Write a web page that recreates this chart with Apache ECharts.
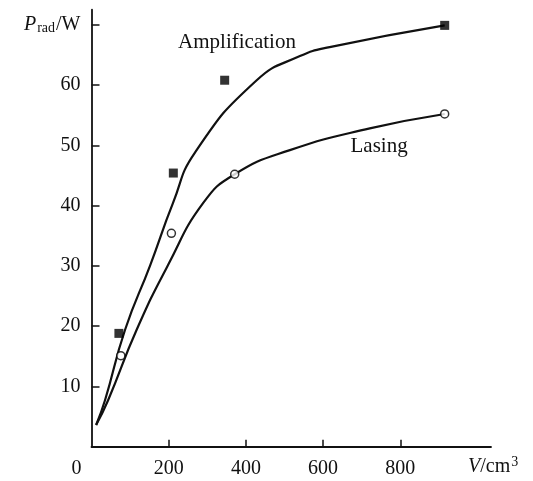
<!DOCTYPE html>
<html>
  <head>
    <meta charset="utf-8" />
    <title>P_rad vs V</title>
    <script src="https://cdn.jsdelivr.net/npm/echarts@6/dist/echarts.min.js"></script>
    <style>
      body {
        margin: 0;
        padding: 0;
        background: #fff;
      }
      #main {
        width: 533px;
        height: 481px;
      }
    </style>
  </head>
  <body>
    <div id="main"></div>
    <script type="text/javascript">
      // measured points (V in cm^3, P in W)
      var ampPoints = [[71, 18.8], [212, 45.4], [345, 60.8], [915, 69.9]];
      var lasePoints = [[76, 15.1], [207, 35.4], [371, 45.2], [915, 55.2]];

      // fitted curves
      var ampCurve = [[12, 3.6], [35, 7.7], [87, 19.4], [152, 30.1], [211, 40.4], [268, 48.8], [428, 60.8], [540, 64.8], [617, 66.3], [915, 69.9]];
      var laseCurve = [[12, 3.6], [43, 7.7], [117, 19.4], [198, 30.1], [289, 40.4], [371, 45.2], [514, 49.2], [721, 52.8], [915, 55.2]];

      var xTicks = [200, 400, 600, 800];
      var xLabels = [0, 200, 400, 600, 800];
      var yTicks = [10, 20, 30, 40, 50, 60, 70];

      var curveNames = ["Amplification", "Lasing"];
      var curveNamePos = [[377, 67.1], [745, 49.8]];

      var font = "Liberation Serif";
      var ink = "#111";

      var myChart = echarts.init(document.getElementById("main"));

      var option = {
        animation: false,
        grid: { left: 91.5, right: 42, top: 9.7, bottom: 34.3 },
        xAxis: {
          type: "value",
          min: 0,
          max: 1035,
          interval: 200,
          splitLine: { show: false },
          axisLine: { lineStyle: { color: ink, width: 1.8 } },
          axisTick: { inside: true, length: 7, customValues: xTicks, lineStyle: { color: ink, width: 1.5 } },
          axisLabel: {
            customValues: xLabels,
            margin: 12,
            color: ink,
            fontFamily: font,
            fontSize: 20,
            formatter: function (v) {
              if (v === 0) return "{z|0}";
              return String(v);
            },
            rich: {
              z: { fontFamily: font, fontSize: 20, color: ink, padding: [0, 30, 0, 0] }
            }
          },
          name: "{v|V}{t|/cm}{sup|3}",
          nameLocation: "end",
          nameGap: -23,
          nameTextStyle: {
            padding: [40, 0, 0, 0],
            rich: {
              v: { fontFamily: font, fontSize: 20, fontStyle: "italic", color: ink },
              t: { fontFamily: font, fontSize: 20, color: ink },
              sup: { fontFamily: font, fontSize: 14, color: ink, padding: [0, 0, 8, 1] }
            }
          }
        },
        yAxis: {
          type: "value",
          min: 0,
          max: 72.5,
          interval: 10,
          splitLine: { show: false },
          axisLine: { lineStyle: { color: ink, width: 1.8 } },
          axisTick: { inside: true, length: 8, customValues: yTicks, lineStyle: { color: ink, width: 1.5 } },
          axisLabel: {
            customValues: yTicks,
            margin: 11,
            color: ink,
            fontFamily: font,
            fontSize: 20,
            formatter: function (v) {
              if (v === 70) return "{p|P}{sub|rad}{t|/W}";
              return String(v);
            },
            rich: {
              p: { fontFamily: font, fontSize: 20, fontStyle: "italic", color: ink },
              sub: { fontFamily: font, fontSize: 14, color: ink, padding: [8, 1, 0, 1] },
              t: { fontFamily: font, fontSize: 20, color: ink }
            }
          }
        },
        series: [
          {
            name: "Amplification curve",
            type: "line",
            data: ampCurve,
            smooth: 0.5,
            showSymbol: false,
            lineStyle: { color: ink, width: 2.2 },
            z: 2
          },
          {
            name: "Lasing curve",
            type: "line",
            data: laseCurve,
            smooth: 0.5,
            showSymbol: false,
            lineStyle: { color: ink, width: 2.2 },
            z: 2
          },
          {
            name: "Amplification",
            type: "scatter",
            data: ampPoints,
            symbol: "rect",
            symbolSize: 9,
            itemStyle: { color: "#000" },
            z: 3
          },
          {
            name: "Lasing",
            type: "scatter",
            data: lasePoints,
            symbol: "circle",
            symbolSize: 8,
            itemStyle: { color: "#fff", borderColor: "#000", borderWidth: 1.5 },
            z: 3
          }
        ]
      };

      myChart.setOption(option);

      // curve captions placed in data coordinates
      var captions = curveNames.map(function (name, i) {
        var p = myChart.convertToPixel({ gridIndex: 0 }, curveNamePos[i]);
        return {
          type: "text",
          x: p[0],
          y: p[1],
          style: {
            text: name,
            fontFamily: font,
            fontSize: 21,
            fill: ink,
            align: "center",
            verticalAlign: "middle"
          }
        };
      });
      myChart.setOption({ graphic: captions });
    </script>
  </body>
</html>
